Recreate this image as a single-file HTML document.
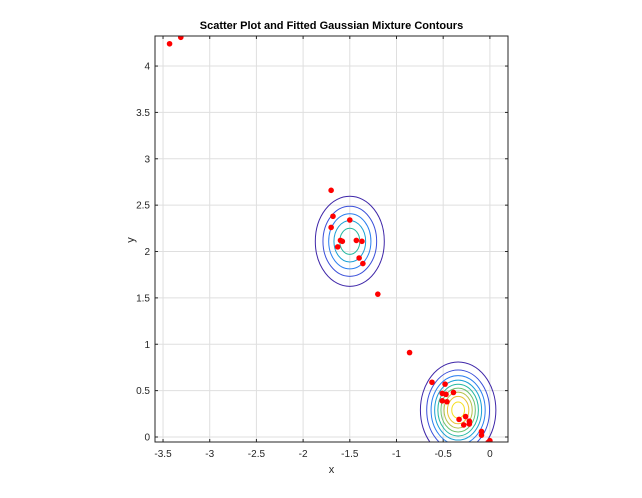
<!DOCTYPE html>
<html><head><meta charset="utf-8"><style>
body{margin:0;background:#fff;font-family:"Liberation Sans",sans-serif}
svg{display:block}
</style></head><body>
<svg id="chart" width="642" height="498"></svg>
<script>
const ptsX=[-3.43,-3.31,-1.70,-1.68,-1.70,-1.50,-1.60,-1.58,-1.43,-1.37,-1.63,-1.40,-1.36,-1.20,-0.86,-0.62,-0.48,-0.51,-0.47,-0.51,-0.46,-0.39,-0.33,-0.28,-0.26,-0.22,-0.22,-0.09,-0.09,-0.02,0.0];
const ptsY=[4.24,4.31,2.66,2.38,2.26,2.34,2.12,2.11,2.12,2.11,2.05,1.93,1.87,1.54,0.91,0.59,0.57,0.47,0.46,0.39,0.38,0.48,0.19,0.13,0.22,0.17,0.14,0.06,0.02,-0.06,-0.04];
const compMuX=[-1.5,-0.34];
const compMuY=[2.11,0.29];
const compSx=[0.197,0.19];
const compSy=[0.259,0.244];
const compPeak=[5.8,9.6];
const levels=[1,2,3,4,5,6,7,8,9];
const xTicks=[-3.5,-3,-2.5,-2,-1.5,-1,-0.5,0];
const yTicks=[0,0.5,1,1.5,2,2.5,3,3.5,4];
const colors=['#3e26a8','#3a4fd9','#2a7ff0','#1aa0d5','#23b89f','#6cc26e','#b4c04a','#e9c234','#f6e01f'];
const L=155,R=508,T=36,B=442,X0=-3.586,X1=0.194,Y0=-0.054,Y1=4.324;
const sx=v=>L+(v-X0)/(X1-X0)*(R-L), sy=v=>B-(v-Y0)/(Y1-Y0)*(B-T);
const NS='http://www.w3.org/2000/svg', svg=document.getElementById('chart');
function mk(t,a,p){const e=document.createElementNS(NS,t);for(const k in a)e.setAttribute(k,a[k]);(p||svg).appendChild(e);return e;}
const defs=mk('defs',{});const cp=mk('clipPath',{id:'c'},defs);mk('rect',{x:L,y:T,width:R-L,height:B-T},cp);
mk('rect',{x:L,y:T,width:R-L,height:B-T,fill:'#fff'});
xTicks.forEach(v=>{const g=mk('line',{x1:sx(v),x2:sx(v),y1:T,y2:B,stroke:'#dfdfdf','stroke-width':1});

const t=mk('text',{x:sx(v),y:B+15,'font-size':10,'text-anchor':'middle',fill:'#262626'});t.textContent=v;

mk('line',{x1:sx(v),x2:sx(v),y1:B,y2:B-3,stroke:'#262626'});mk('line',{x1:sx(v),x2:sx(v),y1:T,y2:T+3,stroke:'#262626'});});
yTicks.forEach(v=>{const g=mk('line',{x1:L,x2:R,y1:sy(v),y2:sy(v),stroke:'#dfdfdf','stroke-width':1});

const t=mk('text',{x:L-5,y:sy(v)+3.5,'font-size':10,'text-anchor':'end',fill:'#262626'});t.textContent=v;

mk('line',{x1:L,x2:L+3,y1:sy(v),y2:sy(v),stroke:'#262626'});mk('line',{x1:R,x2:R-3,y1:sy(v),y2:sy(v),stroke:'#262626'});});
const cg=mk('g',{'clip-path':'url(#c)'});

compMuX.forEach((mx,k)=>{levels.forEach((lv,i)=>{if(lv>=compPeak[k])return;const r=Math.sqrt(2*Math.log(compPeak[k]/lv));
const e=mk('ellipse',{cx:sx(mx),cy:sy(compMuY[k]),rx:r*compSx[k]/(X1-X0)*(R-L),ry:r*compSy[k]/(Y1-Y0)*(B-T),fill:'none',stroke:colors[i],'stroke-width':1},cg);
});});
ptsX.forEach((x,i)=>{const c=mk('circle',{cx:sx(x),cy:sy(ptsY[i]),r:2.8,fill:'#ff0000'},cg);
});
const ax=mk('rect',{x:L,y:T,width:R-L,height:B-T,fill:'none',stroke:'#262626','stroke-width':1});

let t=mk('text',{x:(L+R)/2,y:29,'font-size':11,'font-weight':'bold','text-anchor':'middle',fill:'#000'});t.textContent='Scatter Plot and Fitted Gaussian Mixture Contours';

t=mk('text',{x:(L+R)/2,y:473,'font-size':11,'text-anchor':'middle',fill:'#262626'});t.textContent='x';

t=mk('text',{x:134,y:240,'font-size':11,'text-anchor':'middle',fill:'#262626',transform:'rotate(-90 134 240)'});t.textContent='y';

</script>
</body></html>
